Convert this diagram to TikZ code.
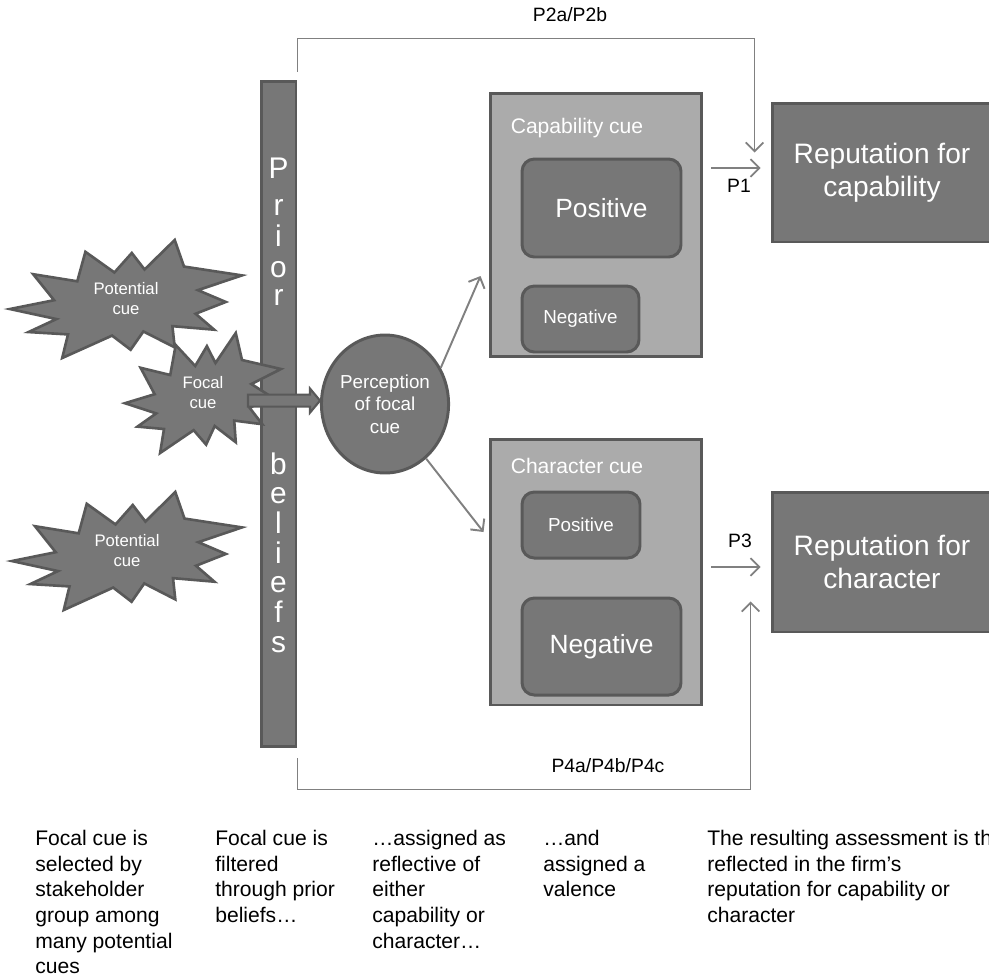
\documentclass[tikz,border=0pt]{standalone}
\usepackage{fontspec}
\setmainfont{Liberation Sans}
\usetikzlibrary{calc,positioning,shapes.geometric,arrows.meta}

\definecolor{darkfill}{HTML}{777777}
\definecolor{lightfill}{HTML}{ABABAB}
\definecolor{boxline}{HTML}{595959}
\definecolor{linkgray}{HTML}{808080}

% ledakan: name, centre, x radius, y radius, text
\newcommand{\cuestar}[5]
	{
	\begin{scope}[shift={(#2)},xscale=#3,yscale=#4]
	\draw[burst] (-1.00,0.17) -- (-0.62,0.02) -- (-0.80,-0.42) -- (-0.42,-0.30)
		-- (-0.35,-0.80) -- (-0.10,-0.45) -- (0.05,-0.78) -- (0.16,-0.50)
		-- (0.42,-1.00) -- (0.50,-0.55) -- (1.00,-0.40) -- (0.62,-0.15)
		-- (0.86,0.05) -- (0.60,0.25) -- (0.76,0.52) -- (0.40,0.46)
		-- (0.42,0.82) -- (0.15,0.55) -- (0.04,0.86) -- (-0.12,0.62)
		-- (-0.55,1.00) -- (-0.50,0.60) -- (-0.84,0.56) -- (-0.60,0.34) -- cycle;
	\end{scope}
	\node[bursttext] (#1) at (#2) {#5};
	}

\begin{document}
\begin{tikzpicture}[x=0.02cm,y=-0.02cm,
	darkbox/.style={draw=boxline,line width=1.7pt,fill=darkfill,text=white,inner sep=0pt},
	cuebox/.style={draw=boxline,line width=1.7pt,fill=lightfill,inner sep=0pt},
	valbox/.style={darkbox,rounded corners=7pt},
	burst/.style={draw=boxline,line width=1.5pt,fill=darkfill,line join=miter},
	bursttext/.style={text=white,align=center,inner sep=0pt,font=\fontsize{9.5}{11.4}\selectfont},
	barletter/.style={text=white,anchor=base,inner sep=0pt,font=\fontsize{17}{20}\selectfont},
	link/.style={draw=linkgray,line width=1pt,-{Straight Barb[length=5pt,width=10pt]}},
	plabel/.style={inner sep=0pt,font=\fontsize{11}{13}\selectfont},
	note/.style={align=left,anchor=north west,inner sep=0pt,font=\fontsize{12}{14.6}\selectfont}]

% bingkai
\useasboundingbox (0,0) rectangle (989,978);
\clip (0,0) rectangle (989,978);

% prior beliefs
\node[darkbox,minimum width=0.7cm,minimum height=13.32cm] (bar) at (278.5,414) {};
\foreach \ch/\yy [count=\i] in {P/178,r/215,i/246,o/277,r/305,b/474,e/503,l/533,i/563,e/592,f/622,s/652}
	\node[barletter] (letter\i) at (278.5,\yy) {\ch};

% cues
\cuestar{pot1}{126,299}{116}{59}{Potential\\cue}
\cuestar{pot2}{127,551}{115}{59}{Potential\\cue}
\cuestar{focal}{203,393}{78}{60}{Focal\\cue}

% perception
\node[darkbox,ellipse,minimum width=2.4cm,minimum height=2.76cm,align=center,
	font=\fontsize{10.7}{12.8}\selectfont] (percep) at (385,404) {Perception\\of focal\\cue};

% block arrow
\coordinate (tip) at (percep.177);
\draw[draw=boxline,line width=1.2pt,fill=darkfill] ($(tip)+(-72,-6)$) -- ($(tip)+(-10,-6)$)
	-- ($(tip)+(-10,-12)$) -- (tip) -- ($(tip)+(-10,12)$) -- ($(tip)+(-10,6)$)
	-- ($(tip)+(-72,6)$) -- cycle;

% capability cue
\node[cuebox,minimum width=4.24cm,minimum height=5.28cm] (capbox) at (596,225) {};
\node[text=white,font=\fontsize{12}{14}\selectfont] (captitle) at (577,128) {Capability cue};
\node[valbox,minimum width=3.18cm,minimum height=1.96cm,font=\fontsize{15}{18}\selectfont] (cappos) at (601.5,208) {Positive};
\node[valbox,minimum width=2.34cm,minimum height=1.32cm,font=\fontsize{10.7}{13}\selectfont] (capneg) at (580.5,319) {Negative};

% character cue
\node[cuebox,minimum width=4.24cm,minimum height=5.32cm] (charbox) at (596,572) {};
\node[text=white,font=\fontsize{12}{14}\selectfont] (chartitle) at (577,466) {Character cue};
\node[valbox,minimum width=2.36cm,minimum height=1.32cm,font=\fontsize{10.7}{13}\selectfont] (charpos) at (581,525) {Positive};
\node[valbox,minimum width=3.18cm,minimum height=1.94cm,font=\fontsize{15}{18}\selectfont] (charneg) at (601.5,646.5) {Negative};

% reputation
\node[darkbox,minimum width=4.4cm,minimum height=2.78cm,align=center,
	font=\fontsize{16}{19}\selectfont] (repcap) at (882,172.5) {Reputation for\\capability};
\node[darkbox,minimum width=4.4cm,minimum height=2.8cm,align=center,
	font=\fontsize{16}{19}\selectfont] (repchar) at (882,562) {Reputation for\\character};

% panah
\draw[link,line width=1.1pt] (percep.33) -- ($(capbox.west)+(-8,51)$);
\draw[link,line width=1.1pt] (percep.-53) -- ($(charbox.west)+(-5,-40)$);
\draw[link] ($(capbox.east)+(8,-57)$) -- ($(repcap.west)+(-10,-4.5)$);
\draw[link] ($(charbox.east)+(8,-5)$) -- ($(repchar.west)+(-10,5)$);
\draw[link] ($(bar.north east)+(0,-8)$) -- ++(0,-33) -| ($(repcap.west)+(-16,-20)$);
\draw[link] ($(bar.south east)+(0,10)$) -- ++(0,31) -| ($(repchar.south west)+(-20,-32)$);

% label
\node[plabel] (p2) at (570,15) {P2a/P2b};
\node[plabel] (p1) at (739,186) {P1};
\node[plabel] (p3) at (740,541) {P3};
\node[plabel] (p4) at (608,766) {P4a/P4b/P4c};

% keterangan
\node[note] (note1) at (35,830) {Focal cue is\\selected by\\stakeholder\\group among\\many potential\\cues};
\node[note] (note2) at (215,830) {Focal cue is\\filtered\\through prior\\beliefs…};
\node[note] (note3) at (372,830) {…assigned as\\reflective of\\either\\capability or\\character…};
\node[note] (note4) at (543,830) {…and\\assigned a\\valence};
\node[note] (note5) at (707,830) {The resulting assessment is then\\reflected in the firm’s\\reputation for capability or\\character};

\end{tikzpicture}
\end{document}
